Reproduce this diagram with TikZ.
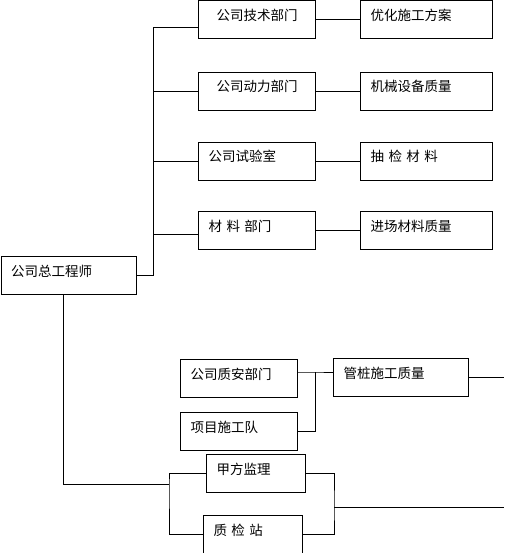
\documentclass[tikz,border=0pt]{standalone}
\usepackage{fontspec}
\newfontfamily\cjk{Noto Sans CJK SC}
\usetikzlibrary{calc}

\tikzset{
  box/.style={draw, line width=1pt, anchor=north west, align=left,
    text width=#1pt-20pt, inner xsep=10pt, inner ysep=4pt,
    text height=15.5pt, text depth=14.5pt,
    font=\cjk\fontsize{13.5}{16}\selectfont},
  link/.style={line width=1pt}
}

\begin{document}
\begin{tikzpicture}[x=1pt,y=-1pt]
\useasboundingbox (0,0) rectangle (504,553);

\node[box=117,align=center] (tech) at (198,0.5) {公司技术部门};
\node[box=117,align=center] (power) at (198,72) {公司动力部门};
\node[box=117] (lab) at (198,142) {公司试验室};
\node[box=117] (mat) at (198,211) {材 料 部门};

\node[box=132] (plan) at (360,0.5) {优化施工方案};
\node[box=132] (mach) at (360,72) {机械设备质量};
\node[box=132] (test) at (360,142) {抽 检 材 料};
\node[box=132] (inmat) at (360,211) {进场材料质量};

\node[box=135] (chief) at (0.5,256) {公司总工程师};

\node[box=117] (qsafe) at (180,359) {公司质安部门};
\node[box=117] (team) at (180,412) {项目施工队};
\node[box=135] (pile) at (333,358) {管桩施工质量};

\node[box=99] (owner) at (206,454) {甲方监理};
\node[box=99] (station) at (203,515) {质 检 站};

\coordinate (bustop) at (153,28);
\coordinate (drop) at (63,484);
\coordinate (split) at (169,484);
\coordinate (join) at (334,507);
\coordinate (merge) at (315,372);
\coordinate (outlow) at (504,507);
\coordinate (outpile) at (504,378);

\draw[link] (chief.east) -| (bustop) -- (bustop -| tech.west);
\draw[link] (bustop |- power.west) -- (power.west);
\draw[link] (bustop |- lab.west) -- (lab.west);
\draw[link] ($(bustop |- mat.west)+(0,4)$) -- ($(mat.west)+(0,4)$);

\draw[link] (tech) -- (plan);
\draw[link] (power) -- (mach);
\draw[link] (lab) -- (test);
\draw[link] (mat) -- (inmat);

\draw[link] (chief.south -| drop) -- (drop) -- (split);
\draw[link] (owner.west) -| (split) |- (station.west);
\draw[link] (owner.east) -| (join) |- (station.east);
\draw[link] (join) -- (outlow);

\draw[link] (qsafe.east |- merge) -- (merge) -- (merge -| pile.west);
\draw[link] (team.east) -| (merge);
\draw[link] (pile.east) -- (pile.east -| outpile);

\end{tikzpicture}
\end{document}
